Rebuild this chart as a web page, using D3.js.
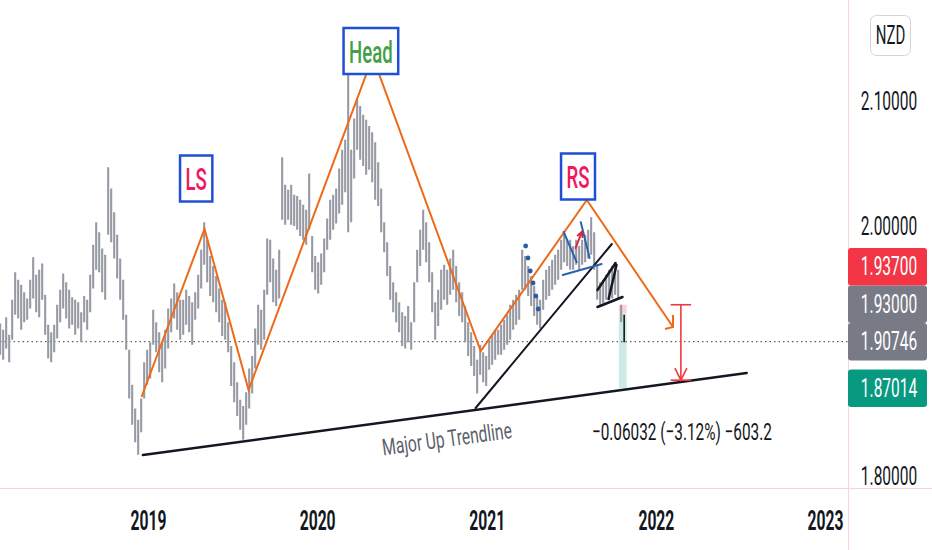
<!DOCTYPE html>
<html>
<head>
<meta charset="utf-8">
<script src="https://d3js.org/d3.v7.min.js"></script>
<style>
  body { margin: 0; background: #fff; }
</style>
</head>
<body>
<script>
const parse = d3.timeParse('%Y-%m-%d');

// price bars (high / low), one bar every ~6.5 days from mid Feb 2018
const barStart = '2018-02-16';
const barStepDays = 6.474;
const barHigh = [
  1.922,1.917,1.927,1.913,1.941,1.963,1.957,1.953,1.947,1.942,
  1.957,1.975,1.961,1.965,1.970,1.945,1.921,1.915,1.921,1.937,
  1.949,1.962,1.955,1.949,1.943,1.941,1.939,1.931,1.944,1.941,
  1.961,1.985,2.003,1.995,1.982,1.977,2.047,2.030,2.011,1.993,
  1.974,1.957,1.929,1.901,1.873,1.854,1.845,1.862,1.891,1.901,
  1.907,1.933,1.923,1.915,1.907,1.917,1.934,1.942,1.954,1.947,
  1.941,1.941,1.949,1.944,1.939,1.947,1.961,1.981,2.003,1.989,
  1.976,1.968,1.960,1.950,1.941,1.939,1.923,1.904,1.891,1.875,
  1.861,1.856,1.867,1.886,1.896,1.918,1.937,1.933,1.949,1.990,
  1.989,1.974,1.965,1.981,2.055,2.033,2.029,2.033,2.025,2.024,
  2.021,2.017,2.013,2.042,1.992,1.976,1.971,1.978,1.990,2.006,
  2.021,2.025,2.030,2.046,2.061,2.069,2.122,2.061,2.086,2.101,
  2.096,2.089,2.085,2.080,2.075,2.067,2.051,2.030,2.003,1.987,
  1.968,1.955,1.947,1.939,1.931,1.928,1.936,1.923,1.955,1.981,
  1.997,2.013,2.003,1.987,1.963,1.939,1.949,1.965,1.969,1.965,
  1.974,1.981,1.968,1.955,1.947,1.936,1.923,1.915,1.904,1.893,
  1.905,1.899,1.896,1.909,1.913,1.917,1.917,1.921,1.925,1.929,
  1.937,1.941,1.945,1.949,1.981,1.976,1.968,1.960,1.952,1.944,
  1.941,1.957,1.965,1.968,1.973,1.977,1.981,1.989,1.994,1.989,
  1.989,1.984,1.989,1.984,1.989,1.993,1.997,2.007,1.995,1.969,
  1.955,1.957,1.961,1.965,1.968,1.971,1.965,1.937,1.929
];
const barLow = [
  1.897,1.893,1.902,1.891,1.909,1.929,1.926,1.917,1.923,1.925,
  1.934,1.942,1.931,1.927,1.941,1.913,1.894,1.891,1.899,1.910,
  1.923,1.934,1.926,1.918,1.921,1.913,1.918,1.907,1.923,1.917,
  1.931,1.950,1.965,1.963,1.947,1.941,1.993,1.987,1.974,1.958,
  1.941,1.925,1.901,1.862,1.841,1.827,1.817,1.835,1.862,1.873,
  1.878,1.905,1.899,1.883,1.875,1.886,1.902,1.915,1.926,1.917,
  1.909,1.913,1.921,1.915,1.905,1.925,1.934,1.950,1.969,1.955,
  1.944,1.939,1.931,1.923,1.912,1.909,1.899,1.872,1.859,1.848,
  1.837,1.829,1.841,1.854,1.866,1.886,1.905,1.901,1.909,1.945,
  1.955,1.939,1.936,1.942,2.005,2.001,2.005,2.001,2.000,1.997,
  1.992,1.989,1.985,1.997,1.963,1.949,1.946,1.953,1.963,1.981,
  1.989,1.997,2.002,2.010,2.017,2.027,1.995,2.003,2.038,2.061,
  2.053,2.048,2.041,2.045,2.035,2.021,2.016,1.995,1.979,1.960,
  1.941,1.931,1.923,1.915,1.904,1.902,1.907,1.901,1.923,1.955,
  1.968,1.981,1.971,1.955,1.931,1.909,1.920,1.933,1.941,1.937,
  1.945,1.949,1.939,1.928,1.923,1.907,1.896,1.888,1.880,1.866,
  1.881,1.875,1.872,1.885,1.889,1.893,1.897,1.897,1.901,1.905,
  1.909,1.917,1.921,1.925,1.949,1.949,1.944,1.936,1.928,1.921,
  1.918,1.933,1.941,1.944,1.949,1.953,1.957,1.965,1.971,1.968,
  1.965,1.965,1.969,1.965,1.969,1.971,1.974,1.977,1.965,1.941,
  1.937,1.938,1.941,1.941,1.942,1.945,1.941,1.923,1.907
];

const lastPrice = 1.90746;
const priceTicks = [1.8, 1.9, 2.0, 2.1];
const yearTicks = ['2019', '2020', '2021', '2022', '2023'];
const currency = 'NZD';

// head & shoulders zigzag
const hsDates = ['2018-12-18','2019-05-03','2019-08-06','2020-04-30','2020-12-19','2021-08-05','2022-02-07'];
const hsPrices = [1.8632, 1.9976, 1.8688, 2.1352, 1.9000, 2.0208, 1.9192];

// trend lines
const majorTrendDates = ['2018-12-21', '2022-07-16'];
const majorTrendPrices = [1.8168, 1.8824];
const innerTrendDates = ['2020-12-08', '2021-09-28'];
const innerTrendPrices = [1.8544, 1.9856];

// blue markers on the rally
const blueDotDates = ['2021-03-26','2021-03-31','2021-04-05','2021-04-11','2021-04-17','2021-04-22'];
const blueDotPrices = [1.984, 1.9744, 1.964, 1.9544, 1.944, 1.9336];

// small drawings near the right shoulder: [date1, price1, date2, price2]
const blueSegs = [
  ['2021-06-16', 1.9952, '2021-07-14', 1.9712],
  ['2021-07-23', 2.0030, '2021-08-11', 1.9744],
  ['2021-06-14', 1.9608, '2021-09-06', 1.9696]
];
const redArrow = ['2021-07-12', 1.9824, '2021-07-25', 1.9952];
const wedgeSegs = [
  ['2021-08-28', 1.9488, '2021-10-06', 1.9704],
  ['2021-09-21', 1.9416, '2021-10-08', 1.9688],
  ['2021-08-28', 1.9352, '2021-10-21', 1.9432]
];

// short position box
const posDates = ['2021-10-13', '2021-10-30'];
const posStop = 1.937, posEntry = 1.930, posTarget = 1.87014;

// price range measure
const measureDate = '2022-02-24';
const measureCapDays = 22;
const measureTop = 1.937, measureBottom = 1.87668;
const measureText = '−0.06032 (−3.12%) −603.2';

const shoulderLabels = ['LS', 'Head', 'RS'];
const shoulderDates = ['2019-04-15', '2020-04-26', '2021-07-17'];
const shoulderPrices = [2.038, 2.140, 2.0396];
const shoulderColors = ['#f0185c', '#43a047', '#f0185c'];

const trendLabel = 'Major Up Trendline';
const trendLabelDate = '2020-10-07', trendLabelPrice = 1.8295;

const priceLabelValues = [1.937, 1.930, 1.90746, 1.87014];
const priceLabelColors = ['#f23645', '#787b86', '#787b86', '#089981'];


const W = 932, H = 550;
const plotRight = 848, plotBottom = 488;

const svg = d3.select('body').append('svg')
    .attr('width', W)
    .attr('height', H)
    .style('font-family', 'Roboto, sans-serif');

const x = d3.scaleTime()
    .domain([parse('2019-01-01'), parse('2023-01-01')])
    .range([148, 825]);
const y = d3.scaleLinear()
    .domain([1.8, 2.1])
    .range([476, 101]);

svg.append('clipPath').attr('id', 'plotclip')
  .append('rect').attr('width', plotRight).attr('height', plotBottom);

// grid borders
svg.append('line').attr('x1', plotRight + 0.5).attr('x2', plotRight + 0.5)
    .attr('y1', 0).attr('y2', H).attr('stroke', '#f6d6da');
svg.append('line').attr('x1', 0).attr('x2', W)
    .attr('y1', plotBottom + 0.5).attr('y2', plotBottom + 0.5).attr('stroke', '#f6d6da');

const plot = svg.append('g').attr('clip-path', 'url(#plotclip)');

const P = (d, p) => [x(parse(d)), y(p)];

// position box (behind the bars)
const px1 = x(parse(posDates[0])), px2 = x(parse(posDates[1]));
plot.append('rect').attr('x', px1).attr('width', px2 - px1)
    .attr('y', y(posStop)).attr('height', y(posEntry) - y(posStop))
    .attr('fill', '#f9d3d6');
plot.append('rect').attr('x', px1).attr('width', px2 - px1)
    .attr('y', y(posEntry)).attr('height', y(posTarget) - y(posEntry))
    .attr('fill', '#cdebe4');

// last price dotted line
plot.append('line')
    .attr('x1', 0).attr('x2', plotRight)
    .attr('y1', y(lastPrice)).attr('y2', y(lastPrice))
    .attr('stroke', '#5d606b').attr('stroke-width', 1.2)
    .attr('stroke-dasharray', '1.5,3');

// bars
const t0 = parse(barStart);
const bars = barHigh.map((h, i) => ({
  date: new Date(+t0 + i * barStepDays * 864e5), hi: h, lo: barLow[i]
}));
plot.append('g').selectAll('line')
  .data(bars)
  .join('line')
    .attr('x1', d => x(d.date)).attr('x2', d => x(d.date))
    .attr('y1', d => y(d.hi)).attr('y2', d => y(d.lo))
    .attr('stroke', (d, i) => i === bars.length - 1 ? '#131722' : '#979aa2')
    .attr('stroke-width', (d, i) => i === bars.length - 1 ? 1.6 : 2.1);

function seg(g, s, color, w) {
  const a = P(s[0], s[1]), b = P(s[2], s[3]);
  g.append('line')
    .attr('x1', a[0]).attr('y1', a[1]).attr('x2', b[0]).attr('y2', b[1])
    .attr('stroke', color).attr('stroke-width', w).attr('stroke-linecap', 'round');
  return [a, b];
}

// trend lines
seg(plot, [majorTrendDates[0], majorTrendPrices[0], majorTrendDates[1], majorTrendPrices[1]], '#131722', 2.5);
seg(plot, [innerTrendDates[0], innerTrendPrices[0], innerTrendDates[1], innerTrendPrices[1]], '#131722', 2);

// head & shoulders
const hsPts = hsDates.map((d, i) => P(d, hsPrices[i]));
plot.append('path')
    .attr('d', d3.line()(hsPts))
    .attr('fill', 'none').attr('stroke', '#ee6a1a').attr('stroke-width', 2)
    .attr('stroke-linejoin', 'miter');
const tip = hsPts[hsPts.length - 1];
plot.append('path')
    .attr('d', `M${tip[0]},${tip[1] - 12}L${tip[0]},${tip[1]}L${tip[0] - 8},${tip[1] + 2}`)
    .attr('fill', 'none').attr('stroke', '#ee6a1a').attr('stroke-width', 2);

// blue markers
plot.append('g').selectAll('circle')
  .data(blueDotDates)
  .join('circle')
    .attr('cx', d => x(parse(d)))
    .attr('cy', (d, i) => y(blueDotPrices[i]))
    .attr('r', 2.4)
    .attr('fill', '#2b5ba5');

blueSegs.forEach(s => seg(plot, s, '#2a62b0', 2));

// red arrow in the flag
const ra = seg(plot, redArrow, '#d6283c', 2);
{
  const [a, b] = ra;
  const ang = Math.atan2(b[1] - a[1], b[0] - a[0]);
  const hl = 6;
  const h1 = [b[0] - hl * Math.cos(ang - 0.5), b[1] - hl * Math.sin(ang - 0.5)];
  const h2 = [b[0] - hl * Math.cos(ang + 0.5), b[1] - hl * Math.sin(ang + 0.5)];
  plot.append('path')
    .attr('d', `M${h1}L${b}L${h2}`)
    .attr('fill', 'none').attr('stroke', '#d6283c').attr('stroke-width', 2);
}

wedgeSegs.forEach(s => seg(plot, s, '#131722', 2.5));

// measure tool
const mx = x(parse(measureDate));
const mxa = x(d3.timeDay.offset(parse(measureDate), -measureCapDays));
const mxb = x(d3.timeDay.offset(parse(measureDate), measureCapDays));
const mTop = y(measureTop), mBot = y(measureBottom);
const meas = plot.append('g').attr('stroke', '#f23645').attr('stroke-width', 1.6).attr('fill', 'none');
meas.append('line').attr('x1', mxa).attr('x2', mxb).attr('y1', mTop).attr('y2', mTop);
meas.append('line').attr('x1', mxa).attr('x2', mxb).attr('y1', mBot).attr('y2', mBot);
meas.append('line').attr('x1', mx).attr('x2', mx).attr('y1', mTop).attr('y2', mBot);
meas.append('path').attr('d', `M${mx - 6},${mBot - 12}L${mx},${mBot}L${mx + 6},${mBot - 12}`);

svg.append('text')
    .attr('transform', `translate(${mx + 1},${mBot + 52}) scale(0.64,1)`)
    .attr('text-anchor', 'middle').attr('dominant-baseline', 'central')
    .attr('font-size', 24).attr('fill', '#131722')
    .text(measureText);

// trend line label, rotated along the line
{
  const a = P(majorTrendDates[0], majorTrendPrices[0]);
  const b = P(majorTrendDates[1], majorTrendPrices[1]);
  const ang = Math.atan2(b[1] - a[1], b[0] - a[0]) * 180 / Math.PI;
  const c = P(trendLabelDate, trendLabelPrice);
  svg.append('text')
    .attr('transform', `translate(${c[0]},${c[1]}) rotate(${ang}) scale(0.68,1)`)
    .attr('text-anchor', 'middle').attr('dominant-baseline', 'central')
    .attr('font-size', 23).attr('fill', '#5d606b')
    .text(trendLabel);
}

// LS / Head / RS boxes
shoulderLabels.forEach((s, i) => {
  const c = P(shoulderDates[i], shoulderPrices[i]);
  const g = svg.append('g');
  const t = g.append('text')
      .attr('transform', `translate(${c[0]},${c[1] + 1}) scale(0.6,1)`)
      .attr('text-anchor', 'middle').attr('dominant-baseline', 'central')
      .attr('font-size', 31).attr('font-weight', 500)
      .attr('fill', shoulderColors[i])
      .text(s);
  const w = t.node().getComputedTextLength() * 0.6 + 11;
  g.insert('rect', 'text')
      .attr('x', c[0] - w / 2).attr('y', c[1] - 23)
      .attr('width', w).attr('height', 46)
      .attr('fill', '#fff').attr('stroke', '#1f4fd6').attr('stroke-width', 2.5);
});

// x axis
const xAxis = svg.append('g')
    .attr('transform', `translate(0,${plotBottom})`)
    .call(d3.axisBottom(x)
      .tickValues(yearTicks.map(d => parse(d + '-01-01')))
      .tickFormat(d3.timeFormat('%Y'))
      .tickSize(0));
xAxis.select('.domain').remove();
xAxis.selectAll('text')
    .attr('y', 0).attr('dy', null)
    .attr('transform', 'translate(0,33) scale(0.58,1)')
    .attr('dominant-baseline', 'central')
    .attr('font-family', 'Roboto, sans-serif')
    .attr('font-size', 27).attr('font-weight', 700)
    .attr('fill', '#131722');

// price labels, pushed up where they would overlap
const lh = 37.5;
const labels = priceLabelValues.map((v, i) => ({ v, c: priceLabelColors[i], cy: y(v) }))
    .sort((a, b) => a.v - b.v);
labels.forEach((d, i) => { if (i > 0) d.cy = Math.min(d.cy, labels[i - 1].cy - lh); });

// y axis (right); a tick label hidden under a price label is not drawn
const axisMid = 889;
const covered = v => labels.some(l => Math.abs(y(v) - l.cy) < lh / 2 + 8);
const yAxis = svg.append('g')
    .attr('transform', `translate(${axisMid},0)`)
    .call(d3.axisRight(y)
      .tickValues(priceTicks.filter(v => !covered(v)))
      .tickFormat(d3.format('.5f'))
      .tickSize(0));
yAxis.select('.domain').remove();
yAxis.selectAll('text')
    .attr('x', 0).attr('dy', null)
    .attr('text-anchor', 'middle')
    .attr('dominant-baseline', 'central')
    .attr('transform', 'scale(0.62,1)')
    .attr('font-family', 'Roboto, sans-serif')
    .attr('font-size', 25)
    .attr('fill', '#131722');

const lab = svg.append('g').selectAll('g').data(labels).join('g');
lab.append('rect')
    .attr('x', plotRight).attr('width', 79)
    .attr('y', d => d.cy - lh / 2).attr('height', lh)
    .attr('rx', 3)
    .attr('fill', d => d.c);
lab.append('text')
    .attr('transform', d => `translate(${axisMid},${d.cy}) scale(0.62,1)`)
    .attr('text-anchor', 'middle').attr('dominant-baseline', 'central')
    .attr('font-size', 25).attr('fill', '#fff')
    .text(d => d3.format('.5f')(d.v));

// currency box
svg.append('rect')
    .attr('x', 870.5).attr('y', 15.5).attr('width', 40).attr('height', 40).attr('rx', 6)
    .attr('fill', '#fff').attr('stroke', '#d1d4dc');
svg.append('text')
    .attr('transform', 'translate(890.5,36) scale(0.6,1)')
    .attr('text-anchor', 'middle').attr('dominant-baseline', 'central')
    .attr('font-size', 25).attr('fill', '#131722')
    .text(currency);
</script>
</body>
</html>
